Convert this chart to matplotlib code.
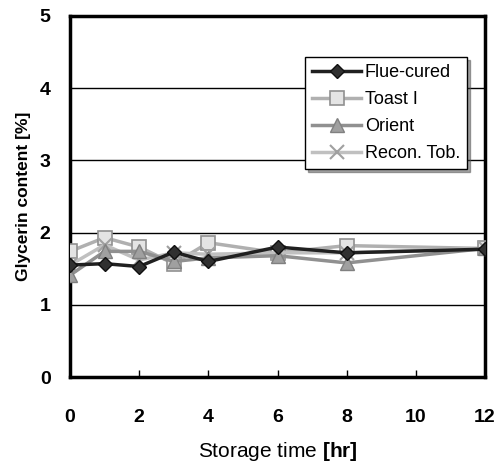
import matplotlib
matplotlib.use("Agg")
import matplotlib.pyplot as plt

plt.rcParams['font.family'] = ['Liberation Sans', 'DejaVu Sans']
plt.rcParams['mathtext.fontset'] = 'custom'
plt.rcParams['mathtext.rm'] = 'Liberation Sans'
plt.rcParams['mathtext.bf'] = 'Liberation Sans:bold'

hours = [0, 1, 2, 3, 4, 6, 8, 12]
flue_cured = [1.55, 1.57, 1.53, 1.73, 1.60, 1.80, 1.72, 1.77]
toast_1 = [1.74, 1.93, 1.80, 1.57, 1.86, 1.72, 1.82, 1.78]
orient = [1.41, 1.74, 1.74, 1.60, 1.65, 1.68, 1.58, 1.78]
recon_tob = [1.55, 1.83, 1.62, 1.72, 1.70, 1.72, 1.72, 1.78]
labels = ["Flue-cured", "Toast I", "Orient", "Recon. Tob."]
xticks = [0, 2, 4, 6, 8, 10, 12]
yticks = [0, 1, 2, 3, 4, 5]

fig = plt.figure(figsize=(5.0, 4.63), dpi=100)
ax = fig.add_axes([70/500, 1-377/463, 415/500, 361/463])

for yv in yticks[1:-1]:
    ax.axhline(yv, color='black', lw=1.0, zorder=1)

ax.plot(hours, toast_1, color='#b0b0b0', lw=2.5, marker='s', ms=10,
        mfc='#e4e4e4', mec='#909090', mew=1.2, label=labels[1], zorder=3)
ax.plot(hours, orient, color='#909090', lw=2.5, marker='^', ms=10,
        mfc='#a0a0a0', mec='#808080', label=labels[2], zorder=4)
ax.plot(hours, recon_tob, color='#c0c0c0', lw=2.5, marker='x', ms=10,
        mec='#a0a0a0', mew=1.5, label=labels[3], zorder=3)
ax.plot(hours, flue_cured, color='#202020', lw=2.5, marker='D', ms=7.5,
        mfc='#303030', mec='#101010', label=labels[0], zorder=5)

ax.set_xlim(0, 12)
ax.set_ylim(0, 5)
ax.set_xticks(xticks)
ax.set_yticks(yticks)
ax.tick_params(axis='x', direction='in', length=5, width=1, pad=23, labelsize=14)
ax.tick_params(axis='y', length=0, pad=14, labelsize=14)
for lab in ax.get_xticklabels() + ax.get_yticklabels():
    lab.set_fontweight('bold')
for s in ax.spines.values():
    s.set_linewidth(2.5)

ax.set_ylabel("Glycerin content [%]", fontsize=12.5, fontweight='bold', labelpad=6)
ax.set_xlabel(r"Storage time $\mathbf{[hr]}$", fontsize=15, labelpad=10)

h, l = ax.get_legend_handles_labels()
order = [3, 0, 1, 2]
leg = ax.legend([h[i] for i in order], [l[i] for i in order],
                loc='upper right', bbox_to_anchor=(0.957, 0.886),
                fontsize=13, frameon=True, fancybox=False, shadow=True,
                edgecolor='black', handlelength=2.7, handletextpad=0.2,
                borderpad=0.4, labelspacing=0.55, borderaxespad=0)
leg.get_frame().set_linewidth(1.0)

fig.savefig("out.png", dpi=100)
